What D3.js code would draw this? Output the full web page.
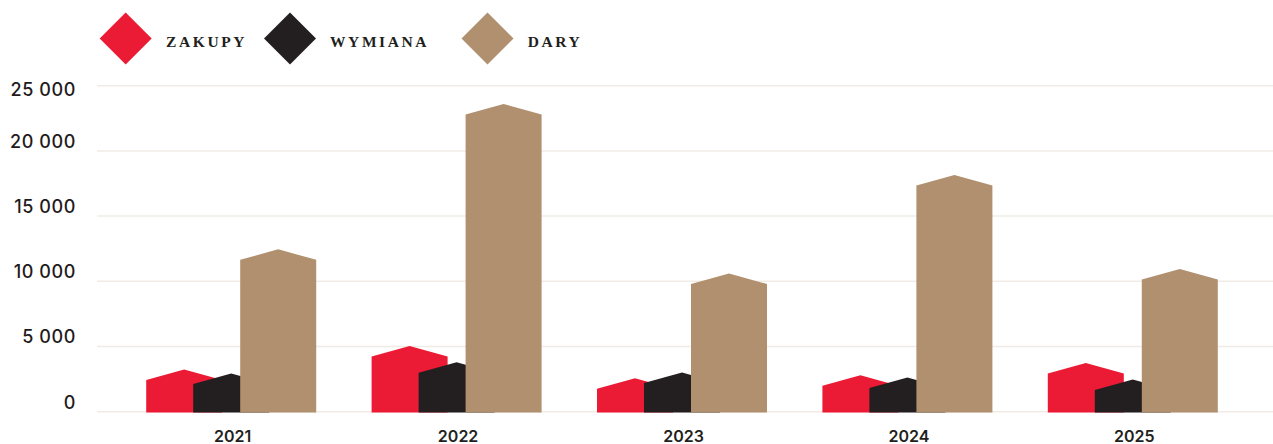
<!DOCTYPE html>
<html>
<head>
<meta charset="utf-8">
<script src="https://cdn.jsdelivr.net/npm/d3@7"></script>
<style>
  html, body { margin: 0; padding: 0; background: #ffffff; }
  svg { display: block; }
</style>
</head>
<body>
<svg id="chart" width="1273" height="444"></svg>
<script>
// ---- data ----
const years = ["2021", "2022", "2023", "2024", "2025"];
const seriesNames = ["ZAKUPY", "WYMIANA", "DARY"];
const zakupy  = [3240, 5030, 2570, 2800, 3740];
const wymiana = [2930, 3800, 3010, 2620, 2470];
const dary    = [12450, 23600, 10600, 18150, 10940];
const yTicks  = [0, 5000, 10000, 15000, 20000, 25000];
const seriesColors = ["#ec1b35", "#231f20", "#b0906e"];

// ---- layout ----
const svg = d3.select("#chart");
const W = 1273;
const y0 = 411.7, yTop = 85.7;
const y = d3.scaleLinear().domain([0, 25000]).range([y0, yTop]);
const x = d3.scaleBand().domain(years).range([118.5, 1245.5]).padding(0);
const barW = 76, offset = 47, peakRise = 10.5;
const sub = d3.scaleOrdinal().domain(seriesNames).range([-offset, 0, offset]);
const allSeries = [zakupy, wymiana, dary];

// gridlines
svg.append("g").selectAll("line").data(yTicks).join("line")
  .attr("x1", 97).attr("x2", W)
  .attr("y1", d => y(d)).attr("y2", d => y(d))
  .attr("stroke", "#f1ebe5").attr("stroke-width", 1.5);

// y tick labels
const fmt = v => d3.format(",")(v).replace(/,/g, " ");
svg.append("g").selectAll("text").data(yTicks).join("text")
  .attr("x", 76)
  .attr("y", d => Math.max(y(d) - 9.5, 89.3))
  .attr("dy", "0.36em")
  .attr("text-anchor", "end")
  .attr("font-family", "Inter, 'Noto Sans', sans-serif")
  .attr("font-size", 18)
  .attr("font-weight", 500)
  .attr("letter-spacing", 0.6)
  .attr("fill", "#1f1b1c")
  .text(fmt);

// bars (pentagon "house" shapes)
function housePath(cx, v) {
  const l = cx - barW / 2, r = cx + barW / 2;
  const py = y(v), sy = Math.min(py + peakRise, y0);
  return `M${l},${y0 + 0.8}L${l},${sy}L${cx},${py}L${r},${sy}L${r},${y0 + 0.8}Z`;
}
seriesNames.forEach((name, si) => {
  svg.append("g").selectAll("path").data(years).join("path")
    .attr("d", (yr, i) => housePath(x(yr) + x.bandwidth() / 2 + sub(name), allSeries[si][i]))
    .attr("fill", seriesColors[si]);
});

// x labels
svg.append("g").selectAll("text").data(years).join("text")
  .attr("x", d => x(d) + x.bandwidth() / 2 + 1.5)
  .attr("y", 441.5)
  .attr("text-anchor", "middle")
  .attr("font-family", "Inter, 'Noto Sans', sans-serif")
  .attr("font-size", 16)
  .attr("font-weight", 600)
  .attr("fill", "#231f20")
  .text(d => d);

// legend
const legendX = [125.7, 290, 487.5];
const legendTextX = [166, 330, 527.7];
const lg = svg.append("g");
seriesNames.forEach((name, i) => {
  const cx = legendX[i], cy = 38.5, h = 26;
  lg.append("path")
    .attr("d", `M${cx},${cy - h}L${cx + h},${cy}L${cx},${cy + h}L${cx - h},${cy}Z`)
    .attr("fill", seriesColors[i]);
  lg.append("text")
    .attr("x", legendTextX[i]).attr("y", 47.3)
    .attr("font-family", "'Liberation Serif', 'DejaVu Serif', serif")
    .attr("font-size", 15.5)
    .attr("font-weight", 700)
    .attr("letter-spacing", 2.6)
    .attr("fill", "#231f20")
    .text(name);
});
</script>
</body>
</html>
